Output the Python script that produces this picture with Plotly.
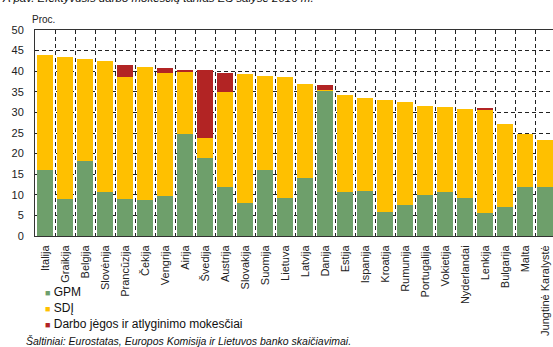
import plotly.graph_objects as go

countries = ["Italija", "Graikija", "Belgija", "Slovėnija", "Prancūzija", "Čekija", "Vengrija",
             "Airija", "Švedija", "Austrija", "Slovakija", "Suomija", "Lietuva", "Latvija",
             "Danija", "Estija", "Ispanija", "Kroatija", "Rumunija", "Portugalija", "Vokietija",
             "Nyderlandai", "Lenkija", "Bulgarija", "Malta", "Jungtinė Karalystė"]
gpm = [16.1, 9.1, 18.2, 10.8, 8.9, 8.8, 9.6, 24.8, 18.9, 11.9, 8.1, 16.1, 9.2, 14.0,
       35.3, 10.8, 11.0, 5.9, 7.5, 10.0, 10.6, 9.2, 5.5, 7.1, 11.8, 12.0]
sdi = [27.8, 34.4, 24.8, 31.7, 29.7, 32.2, 30.0, 15.0, 5.0, 23.0, 31.3, 22.7, 29.4, 22.8,
       0.2, 23.5, 22.5, 27.0, 25.0, 21.5, 20.7, 21.7, 25.0, 20.1, 13.0, 11.2]
darbo = [0, 0, 0, 0, 3.0, 0, 1.2, 0.5, 16.3, 4.7, 0, 0, 0, 0,
         1.1, 0, 0, 0, 0, 0, 0, 0, 0.5, 0, 0, 0]
series_names = ["GPM", "SDĮ", "Darbo jėgos ir atlyginimo mokesčiai"]
colors = ["#6E9F6B", "#FFC000", "#B22424"]
yticks = [0, 5, 10, 15, 20, 25, 30, 35, 40, 45, 50]

idx = list(range(len(countries)))
fig = go.Figure()
for name, vals, col in zip(series_names, [gpm, sdi, darbo], colors):
    fig.add_trace(go.Bar(x=idx, y=vals, name=name, marker=dict(color=col, line=dict(width=0)),
                         showlegend=False))

FONT = "Liberation Sans, Arial, sans-serif"
fig.update_layout(
    width=553, height=347,
    margin=dict(l=35, r=0, t=30, b=111, autoexpand=False),
    barmode="stack", bargap=0.23,
    plot_bgcolor="white", paper_bgcolor="white",
    font=dict(family=FONT, size=11, color="#222"),
    xaxis=dict(
        automargin=False,
        range=[-0.5, 25.4], tickmode="array", tickvals=idx, ticktext=countries,
        tickangle=-90, tickfont=dict(size=11, color="#222"), ticks="", showgrid=False,
        showline=True, linecolor="#333", linewidth=1, mirror=True, zeroline=False,
        ticklabelstandoff=4,
        minor=dict(tickvals=[i - 0.5 for i in range(len(countries) + 1)], showgrid=True,
                   gridcolor="#222", gridwidth=1, griddash="4px,3px", ticks=""),
    ),
    yaxis=dict(
        automargin=False,
        range=[0, 50], tickvals=yticks, showgrid=True, gridcolor="#222", gridwidth=1,
        griddash="4px,3px", showline=True, linecolor="#333", linewidth=1, zeroline=False,
        ticks="", tickfont=dict(size=11, color="#222"), ticklabelstandoff=8,
    ),
)

annotations = [
    dict(text="<i>A pav. Efektyvusis darbo mokesčių tarifas ES šalyse 2016 m.</i>", xref="paper",
         yref="paper", x=-35 / 518, y=1 + (30 - 6) / 206, xanchor="left", yanchor="bottom",
         showarrow=False, font=dict(size=11.5, family=FONT, color="#111")),
    dict(text="Proc.", xref="paper", yref="paper", x=-5 / 518, y=1 + (30 - 19) / 206,
         xanchor="left", yanchor="middle", showarrow=False, font=dict(size=10, family=FONT)),
    dict(text="<i>Šaltiniai: Eurostatas, Europos Komisija ir Lietuvos banko skaičiavimai.</i>",
         xref="paper", yref="paper", x=-11 / 518, y=-(341 - 236) / 206, xanchor="left",
         yanchor="middle", showarrow=False, font=dict(size=10.5, family=FONT, color="#111")),
]
legend_y = [292, 308, 324]
for name, col, py in zip(series_names, colors, legend_y):
    annotations.append(dict(
        text=f'<span style="color:{col};font-size:9px">■</span> {name}', xref="paper", yref="paper",
        x=8 / 518, y=-(py - 236) / 206, xanchor="left", yanchor="middle", showarrow=False,
        font=dict(size=12, family=FONT, color="#111")))
fig.update_layout(annotations=annotations)

fig.write_html("out.html", config={"displayModeBar": False},
               post_script="document.body.style.margin='0';")
